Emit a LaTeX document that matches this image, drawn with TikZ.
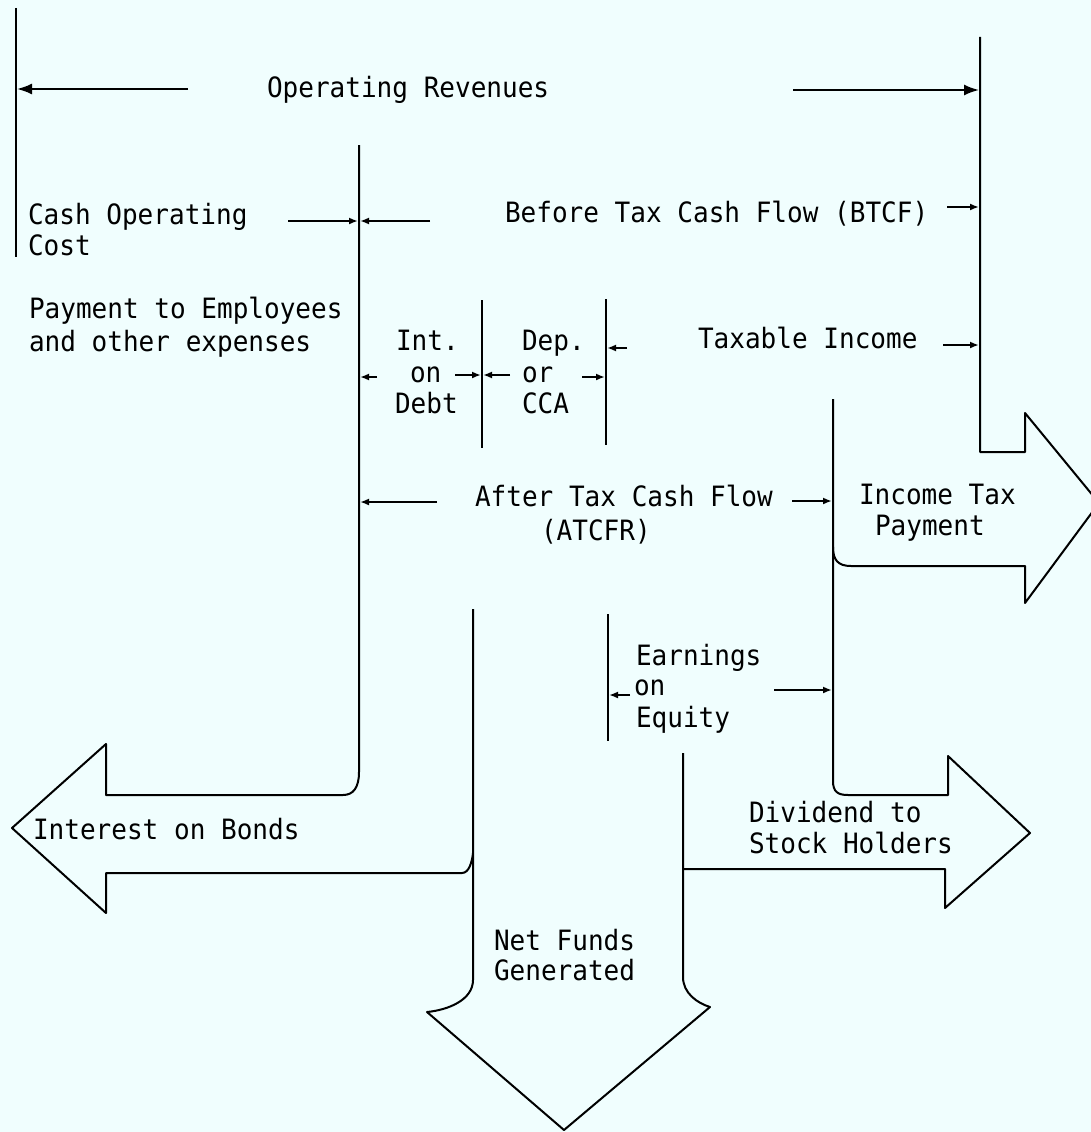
\documentclass[tikz,border=0pt]{standalone}
\usepackage{fontspec}
\setmonofont[FakeStretch=0.93]{DejaVu Sans Mono}
\usetikzlibrary{arrows.meta}
\definecolor{bgc}{RGB}{240,254,254}
\begin{document}
\begin{tikzpicture}[x=1pt,y=-1pt, line width=2pt, line join=round,
  lbl/.style={anchor=base west, inner sep=0pt, font=\ttfamily\fontsize{28}{31}\selectfont},
  sarrow/.style={-{Latex[length=9pt,width=7pt]}},
  barrow/.style={-{Latex[length=15pt,width=11pt]}}]
\fill[bgc] (0,0) rectangle (1091,1132);
\useasboundingbox (0,0) rectangle (1091,1132);
\clip (0,0) rectangle (1091,1132);

% ---- coordinates
\coordinate (vL1) at (16,8);   \coordinate (vL2) at (16,257);
\coordinate (orL1) at (188,89); \coordinate (orL2) at (17,89);
\coordinate (orR1) at (793,90); \coordinate (orR2) at (979,90);

% ---- labels
\node[lbl] (opRev) at (266,97) {Operating Revenues};
\node[lbl] (cash1) at (27,224) {Cash Operating};
\node[lbl] (cash2) at (27,255) {Cost};
\node[lbl] (pay1) at (28,318) {Payment to Employees};
\node[lbl] (pay2) at (28,351) {and other expenses};
\node[lbl] (btcf) at (504,222) {Before Tax Cash Flow (BTCF)};
\node[lbl] (int1) at (395,350) {Int.};
\node[lbl] (int2) at (409,382) {on};
\node[lbl] (int3) at (394,413) {Debt};
\node[lbl] (dep1) at (521,350) {Dep.};
\node[lbl] (dep2) at (521,382) {or};
\node[lbl] (dep3) at (521,413) {CCA};
\node[lbl] (taxinc) at (697,348) {Taxable Income};
\node[lbl] (atcf1) at (474,506) {After Tax Cash Flow};
\node[lbl] (atcf2) at (540,540) {(ATCFR)};
\node[lbl] (itax1) at (858,504) {Income Tax};
\node[lbl] (itax2) at (874,535) {Payment};
\node[lbl] (earn1) at (635,665) {Earnings};
\node[lbl] (earn2) at (633,695) {on};
\node[lbl] (earn3) at (635,727) {Equity};
\node[lbl] (bonds) at (32,839) {Interest on Bonds};
\node[lbl] (div1) at (748,822) {Dividend to};
\node[lbl] (div2) at (748,853) {Stock Holders};
\node[lbl] (nfg1) at (493,950) {Net Funds};
\node[lbl] (nfg2) at (493,980) {Generated};

% ---- left boundary and operating revenues
\draw (vL1) -- (vL2);
\draw[barrow] (orL1) -- (orL2);
\draw[barrow] (orR1) -- (orR2);

% ---- right vertical with income tax arrow
\draw (980,37) -- (980,452) -- (1025,452) -- (1025,413) -- (1099,503)
      -- (1025,603) -- (1025,566) -- (851,566)
      .. controls (838,566) and (833,560) .. (833,547);

% ---- x=833 line with dividend arrow
\draw (833,399) -- (833,781) .. controls (833,792) and (838,795) .. (848,795)
      -- (948,795) -- (948,756) -- (1030,833) -- (945,908) -- (945,869) -- (683,869);

% ---- net funds arrow
\draw (683,753) -- (683,977) .. controls (683,993) and (697,1003) .. (710,1007)
      -- (564,1130) -- (427,1012) .. controls (448,1010) and (473,1000) .. (473,980)
      -- (473,609);

% ---- interest on bonds arrow
\draw (359,145) -- (359,772) .. controls (359,788) and (353,795) .. (343,795)
      -- (106,795) -- (106,744) -- (12,828) -- (106,913) -- (106,873) -- (462,873)
      .. controls (469,873) and (472,862) .. (473,853);

% ---- short vertical separators
\draw (482,300) -- (482,448);
\draw (606,299) -- (606,445);
\draw (608,614) -- (608,741);

% ---- small arrows
\draw[sarrow] (288,221) -- (358,221);
\draw[sarrow] (430,221) -- (360,221);
\draw[sarrow] (947,207) -- (979,207);
\draw[sarrow] (943,345) -- (979,345);
\draw[sarrow] (377,377) -- (360,377);
\draw[sarrow] (455,375) -- (481,375);
\draw[sarrow] (510,375) -- (483,375);
\draw[sarrow] (582,377) -- (605,377);
\draw[sarrow] (627,348) -- (607,348);
\draw[sarrow] (437,502) -- (360,502);
\draw[sarrow] (792,501) -- (832,501);
\draw[sarrow] (630,695) -- (609,695);
\draw[sarrow] (774,690) -- (832,690);
\end{tikzpicture}
\end{document}
